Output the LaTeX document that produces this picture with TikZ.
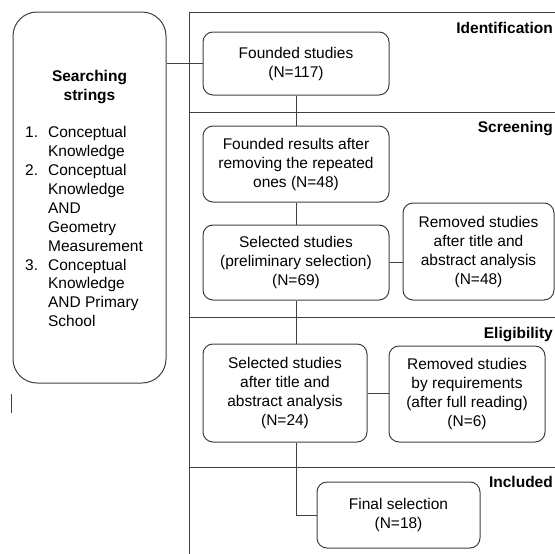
\documentclass[tikz,border=0pt]{standalone}
\usepackage{fontspec}
\setmainfont{Liberation Sans}
\tikzset{
  ln/.style={draw=black!75, line width=1pt},
  stepbox/.style={ln, rounded corners=10pt, align=center, inner sep=0pt},
  lbl/.style={font=\bfseries\fontsize{15.5}{19}\selectfont, inner sep=0pt},
}
\begin{document}
\begin{tikzpicture}[x=1pt,y=-1pt, every node/.append style={font=\fontsize{15.5}{19}\selectfont}]
\useasboundingbox (0,0) rectangle (555,554);
% frame
\draw[ln] (555,12) -- (189,12) -- (189,554);
\draw[ln] (189,112) -- (555,112);
\draw[ln] (189,317) -- (555,317);
\draw[ln] (189,467) -- (555,467);
% stage labels
\node[lbl, anchor=base east] (lid) at (553,33.5) {Identification};
\node[lbl, anchor=base east] (lsc) at (553,132.5) {Screening};
\node[lbl, anchor=base east] (lel) at (553,338.5) {Eligibility};
\node[lbl, anchor=base east] (lin) at (553,487.5) {Included};
% left box
\node[ln, rounded corners=24pt, minimum width=153pt, minimum height=371pt, inner sep=0pt] (left) at (89.5,197.5) {};
\node[lbl, align=center, anchor=base] (ltitle) at (89.5,100) {Searching\\strings};
\node[anchor=base west, inner sep=0pt] (llist) at (25,137) {\begin{tabular}[t]{@{}l@{\hspace{10pt}}l@{}}
1. & Conceptual\\
   & Knowledge\\
2. & Conceptual\\
   & Knowledge\\
   & AND\\
   & Geometry\\
   & Measurement\\
3. & Conceptual\\
   & Knowledge\\
   & AND Primary\\
   & School
\end{tabular}};
\draw[ln] (11,394) -- (11,413);
% flow boxes
\node[stepbox, minimum width=186pt, minimum height=63pt] (b1) at (296,63.5) {Founded studies\\(N=117)};
\node[stepbox, minimum width=186pt, minimum height=76pt] (b2) at (296,164) {Founded results after\\removing the repeated\\ones (N=48)};
\node[stepbox, minimum width=186pt, minimum height=75pt] (b3) at (296,262.5) {Selected studies\\(preliminary selection)\\(N=69)};
\node[stepbox, minimum width=151pt, minimum height=97pt] (b4) at (478.5,251.5) {Removed studies\\after title and\\abstract analysis\\(N=48)};
\node[stepbox, minimum width=164pt, minimum height=98pt] (b5) at (285,393) {Selected studies\\after title and\\abstract analysis\\(N=24)};
\node[stepbox, minimum width=156pt, minimum height=96pt] (b6) at (467,394) {Removed studies\\by requirements\\(after full reading)\\(N=6)};
\node[stepbox, minimum width=163pt, minimum height=66pt] (b7) at (398.5,515) {Final selection\\(N=18)};
% connectors
\draw[ln] (b1.west) -- (b1.west -| left.east);
\draw[ln] (b1.south) -- (b2.north);
\draw[ln] (b2.south) -- (b3.north);
\draw[ln] (b3.south) -- (b3.south |- b5.north);
\draw[ln] (b3.east) -- (b3.east -| b4.west);
\draw[ln] (b5.east) -- (b5.east -| b6.west);
\coordinate (e1) at (b3.south |- b5.south);
\coordinate (e2) at (b3.south |- b7.west);
\draw[ln] (e1) -- (e2) -- (b7.west);
\end{tikzpicture}
\end{document}
